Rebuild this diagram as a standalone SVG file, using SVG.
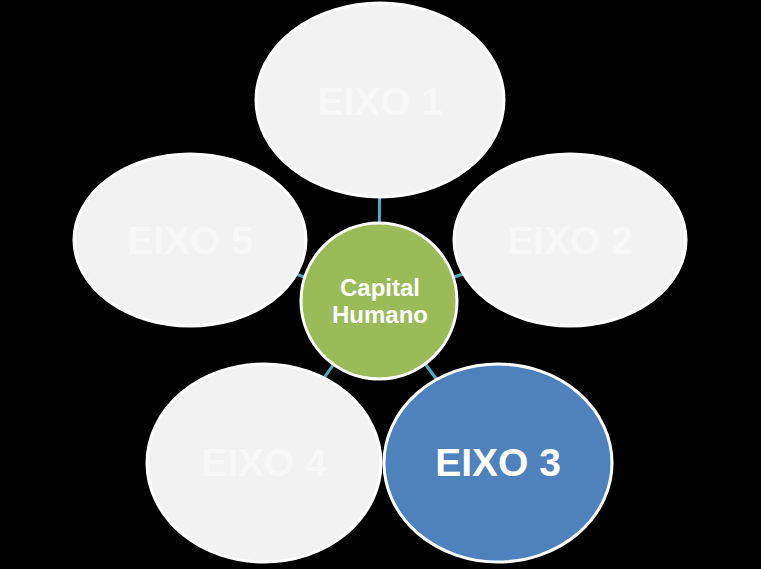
<svg xmlns="http://www.w3.org/2000/svg" width="761" height="569" viewBox="0 0 761 569">
<style>
.n{fill:#f2f2f2;stroke:#ffffff;stroke-width:3}
.t{font-family:"Liberation Sans",Arial,sans-serif;font-weight:bold;font-size:39px;fill:#f8f8f8;text-anchor:middle}
.c{stroke:#4bacc6;stroke-width:3;fill:none}
</style>
<rect width="761" height="569" fill="#000000"/>
<g id="connectors">
<line class="c" x1="379" y1="301" x2="380" y2="100"/>
<line class="c" x1="379" y1="301" x2="570" y2="240"/>
<line class="c" x1="379" y1="301" x2="498" y2="463"/>
<line class="c" x1="379" y1="301" x2="263" y2="463"/>
<line class="c" x1="379" y1="301" x2="190" y2="240"/>
</g>
<g id="eixo1"><ellipse class="n" cx="380" cy="100" rx="124" ry="97"/><text class="t" x="380" y="115">EIXO 1</text></g>
<g id="eixo2"><ellipse class="n" cx="570" cy="240" rx="116" ry="86"/><text class="t" x="570" y="254">EIXO 2</text></g>
<g id="eixo3"><ellipse cx="498" cy="463" rx="114" ry="99" fill="#4f81bd" stroke="#ffffff" stroke-width="3"/><text class="t" x="498" y="476" style="fill:#ffffff">EIXO 3</text></g>
<g id="eixo4"><ellipse class="n" cx="264" cy="463" rx="117" ry="99"/><text class="t" x="264" y="476">EIXO 4</text></g>
<g id="eixo5"><ellipse class="n" cx="190" cy="240" rx="116" ry="86"/><text class="t" x="190" y="254">EIXO 5</text></g>
<g id="center"><circle cx="379" cy="301" r="78" fill="#9bbb59" stroke="#ffffff" stroke-width="3"/>
<text font-family="Liberation Sans,Arial,sans-serif" font-weight="bold" font-size="24" fill="#ffffff" text-anchor="middle"><tspan x="380" y="296">Capital</tspan><tspan x="380" y="323">Humano</tspan></text></g>
</svg>
